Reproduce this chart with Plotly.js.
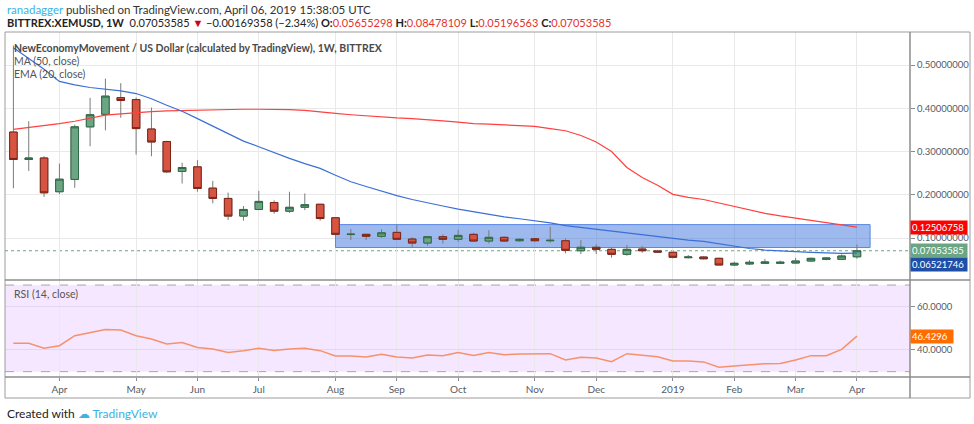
<!DOCTYPE html>
<html>
<head>
<meta charset="utf-8">
<script src="https://cdn.plot.ly/plotly-3.0.1.min.js"></script>
<style>
  html, body { margin: 0; padding: 0; background: #ffffff; }
  #chart { width: 974px; height: 424px; }
</style>
</head>
<body>
<div id="chart"></div>
<script>
// ---- data ----
const weeks = [
  '2018-03-12','2018-03-19','2018-03-26','2018-04-02','2018-04-09','2018-04-16','2018-04-23','2018-04-30',
  '2018-05-07','2018-05-14','2018-05-21','2018-05-28','2018-06-04','2018-06-11','2018-06-18','2018-06-25',
  '2018-07-02','2018-07-09','2018-07-16','2018-07-23','2018-07-30','2018-08-06','2018-08-13','2018-08-20',
  '2018-08-27','2018-09-03','2018-09-10','2018-09-17','2018-09-24','2018-10-01','2018-10-08','2018-10-15',
  '2018-10-22','2018-10-29','2018-11-05','2018-11-12','2018-11-19','2018-11-26','2018-12-03','2018-12-10',
  '2018-12-17','2018-12-24','2018-12-31','2019-01-07','2019-01-14','2019-01-21','2019-01-28','2019-02-04',
  '2019-02-11','2019-02-18','2019-02-25','2019-03-04','2019-03-11','2019-03-18','2019-03-25','2019-04-01'
];
const openP = [
  0.345,0.2816,0.285,0.207,0.2354,0.357,0.386,0.4246,
  0.420,0.352,0.323,0.254,0.2645,0.2153,0.1915,0.1507,
  0.166,0.182,0.162,0.171,0.178,0.1468,0.1080,0.1085,
  0.1039,0.113,0.0976,0.0884,0.103,0.097,0.1085,0.093,
  0.1015,0.0937,0.0983,0.0937,0.0937,0.0706,0.0785,0.0738,
  0.0623,0.0745,0.070,0.067,0.0545,0.056,0.053,0.0376,
  0.040,0.0415,0.0415,0.0422,0.0468,0.0507,0.0507,0.05655298
];
const highP = [
  0.545,0.370,0.289,0.272,0.362,0.424,0.4685,0.458,
  0.425,0.4016,0.325,0.274,0.280,0.232,0.205,0.174,
  0.209,0.187,0.207,0.203,0.179,0.1475,0.1207,0.1095,
  0.120,0.1306,0.102,0.1037,0.1085,0.119,0.112,0.118,
  0.1035,0.0985,0.0995,0.126,0.099,0.0953,0.0853,0.0776,
  0.0838,0.082,0.072,0.068,0.0607,0.0577,0.0545,0.0453,
  0.049,0.0515,0.0476,0.054,0.0545,0.0545,0.0622,0.08478109
];
const lowP = [
  0.215,0.255,0.195,0.2015,0.216,0.312,0.349,0.378,
  0.293,0.289,0.250,0.226,0.207,0.180,0.1415,0.140,
  0.1645,0.156,0.158,0.1645,0.140,0.1066,0.0953,0.0953,
  0.1006,0.0953,0.0785,0.082,0.087,0.0915,0.0915,0.0877,
  0.0915,0.0915,0.0915,0.089,0.0646,0.063,0.063,0.0545,
  0.059,0.066,0.066,0.053,0.053,0.0506,0.0368,0.0353,
  0.0376,0.0407,0.0407,0.0407,0.0445,0.0485,0.0492,0.05196563
];
const closeP = [
  0.2816,0.285,0.2045,0.236,0.357,0.385,0.428,0.418,
  0.353,0.322,0.253,0.263,0.2146,0.1915,0.1507,0.166,
  0.1846,0.162,0.171,0.177,0.145,0.1085,0.1088,0.1039,
  0.112,0.097,0.0884,0.103,0.097,0.106,0.093,0.1015,
  0.093,0.097,0.0937,0.0946,0.0715,0.0785,0.0738,0.0623,
  0.0738,0.0706,0.0676,0.0554,0.056,0.052,0.0376,0.0415,
  0.0438,0.0445,0.0438,0.0468,0.053,0.0538,0.0584,0.07053585
];
const ma50 = [
  0.351,0.355,0.359,0.3646,0.370,0.377,0.384,0.387,
  0.390,0.392,0.394,0.395,0.396,0.3965,0.397,0.3977,
  0.3977,0.3975,0.397,0.395,0.391,0.388,0.385,0.382,
  0.380,0.3776,0.376,0.374,0.371,0.368,0.3646,0.3635,
  0.362,0.3607,0.358,0.353,0.348,0.337,0.322,0.300,
  0.263,0.240,0.222,0.201,0.194,0.189,0.181,0.174,
  0.166,0.157,0.151,0.146,0.141,0.136,0.131,0.12506758
];
const ema20 = [
  0.540,0.515,0.490,0.462,0.454,0.448,0.4445,0.440,
  0.434,0.422,0.407,0.393,0.376,0.359,0.3415,0.324,
  0.311,0.297,0.284,0.272,0.261,0.245,0.230,0.219,
  0.208,0.198,0.189,0.181,0.174,0.1668,0.1604,0.1546,
  0.149,0.1445,0.140,0.135,0.1288,0.1246,0.120,0.1154,
  0.1115,0.107,0.103,0.099,0.0953,0.092,0.0868,0.080,
  0.0757,0.0722,0.070,0.068,0.067,0.0658,0.0646,0.06521746
];
const rsi14 = [
  43.1,43.1,40.8,42.0,46.6,48.0,49.5,49.2,
  46.6,45.1,42.8,43.5,41.2,40.5,38.8,39.7,
  40.8,39.8,40.5,40.8,39.7,37.2,37.2,36.8,
  38.0,36.8,36.3,37.7,37.4,38.8,37.5,38.8,
  37.8,38.2,38.3,38.3,35.4,36.6,36.3,34.6,
  38.3,37.7,36.9,34.9,34.9,34.5,32.0,32.6,
  33.2,33.7,33.8,35.4,37.4,37.4,40.3,46.4296
];
const monthTickDates = ['2018-04-02','2018-05-07','2018-06-04','2018-07-02','2018-08-06','2018-09-03','2018-10-01',
  '2018-11-05','2018-12-03','2019-01-07','2019-02-04','2019-03-04','2019-04-01'];
const monthTickText = ['Apr','May','Jun','Jul','Aug','Sep','Oct','Nov','Dec','2019','Feb','Mar','Apr'];
const priceTicks = [0.1, 0.2, 0.3, 0.4, 0.5];
const rsiTicks = [40, 60];
const rsiBands = [30, 70];
const zoneDates = ['2018-08-06', '2019-04-07'];
const zonePrices = [0.078, 0.131];

// ---- styles ----
const GREEN = '#6ba583', GREEN_EDGE = '#2f6b47';
const RED = '#d75442', RED_EDGE = '#7a2618';
const WICK = '#7b7b7b';
const AX = '#555b66';
const FONT = 'Lato, "Open Sans", sans-serif';

const lastIdx = closeP.length - 1;
const bodyHigh = openP.map((o, i) => Math.max(o, closeP[i]));
const bodyLow = openP.map((o, i) => Math.min(o, closeP[i]));

const traces = [
  { type: 'candlestick', x: weeks, open: openP, high: highP, low: lowP, close: closeP,
    increasing: { line: { color: WICK, width: 1 }, fillcolor: GREEN },
    decreasing: { line: { color: WICK, width: 1 }, fillcolor: RED },
    whiskerwidth: 0, xaxis: 'x', yaxis: 'y', showlegend: false, hoverinfo: 'skip' },
  { type: 'candlestick', x: weeks, open: openP, high: bodyHigh, low: bodyLow, close: closeP,
    increasing: { line: { color: GREEN_EDGE, width: 1 }, fillcolor: GREEN },
    decreasing: { line: { color: RED_EDGE, width: 1 }, fillcolor: RED },
    whiskerwidth: 0, xaxis: 'x', yaxis: 'y', showlegend: false, hoverinfo: 'skip' },
  { type: 'scatter', mode: 'lines', x: weeks, y: ma50, line: { color: '#ff4040', width: 1.2 },
    xaxis: 'x', yaxis: 'y', showlegend: false, hoverinfo: 'skip' },
  { type: 'scatter', mode: 'lines', x: weeks, y: ema20, line: { color: '#3c6fd6', width: 1.2 },
    xaxis: 'x', yaxis: 'y', showlegend: false, hoverinfo: 'skip' },
  { type: 'scatter', mode: 'lines', x: weeks, y: rsi14, line: { color: '#f7916b', width: 1.5 },
    xaxis: 'x', yaxis: 'y2', showlegend: false, hoverinfo: 'skip' }
];

// pixel helpers for paper coords (plot area: x 5..910, y 32..377)
const PX = v => (v - 5) / 905;
const PY = v => (377 - v) / 345;

const shapes = [
  { type: 'rect', xref: 'x', yref: 'y', x0: zoneDates[0], x1: zoneDates[1], y0: zonePrices[0], y1: zonePrices[1],
    fillcolor: 'rgba(62,116,220,0.5)', line: { color: '#5a88e0', width: 1 }, layer: 'between' },
  { type: 'line', xref: 'paper', yref: 'y', x0: 0, x1: 1, y0: closeP[lastIdx], y1: closeP[lastIdx],
    line: { color: GREEN, width: 1, dash: 'dot' }, layer: 'between' },
  { type: 'rect', xref: 'paper', yref: 'y2', x0: 0, x1: 1, y0: rsiBands[0], y1: rsiBands[1],
    fillcolor: 'rgba(153,21,255,0.1)', line: { width: 0 }, layer: 'below' },
  { type: 'line', xref: 'paper', yref: 'y2', x0: 0, x1: 1, y0: rsiBands[1], y1: rsiBands[1],
    line: { color: '#a6a6a6', width: 1, dash: 'dash' }, layer: 'between' },
  { type: 'line', xref: 'paper', yref: 'y2', x0: 0, x1: 1, y0: rsiBands[0], y1: rsiBands[0],
    line: { color: '#a6a6a6', width: 1, dash: 'dash' }, layer: 'between' },
  { type: 'rect', xref: 'paper', yref: 'paper', x0: PX(5), x1: PX(970), y0: PY(398), y1: PY(32),
    line: { color: '#9c9c9c', width: 1 }, fillcolor: 'rgba(0,0,0,0)', layer: 'above' },
  { type: 'line', xref: 'paper', yref: 'paper', x0: PX(5), x1: PX(970), y0: PY(280), y1: PY(280),
    line: { color: '#8c8c8c', width: 1.5 }, layer: 'above' },
  { type: 'line', xref: 'paper', yref: 'paper', x0: PX(5), x1: PX(970), y0: PY(377), y1: PY(377),
    line: { color: '#8c8c8c', width: 1.5 }, layer: 'above' },
  { type: 'line', xref: 'paper', yref: 'paper', x0: PX(910), x1: PX(910), y0: PY(398), y1: PY(32),
    line: { color: '#8c8c8c', width: 1.5 }, layer: 'above' }
];

const tagFont = { family: FONT, size: 9.5, color: '#ffffff' };
const annotations = [
  { xref: 'paper', yref: 'paper', x: PX(5), y: PY(9), xanchor: 'left', yanchor: 'middle', showarrow: false,
    font: { family: FONT, size: 11.5, color: '#333333' },
    text: '<span style="color:#3bb3e4">ranadagger</span> published on TradingView.com, April 06, 2019 15:38:05 UTC' },
  { xref: 'paper', yref: 'paper', x: PX(5), y: PY(22), xanchor: 'left', yanchor: 'middle', showarrow: false,
    font: { family: FONT, size: 11, color: '#222222' },
    text: '<b>BITTREX:XEMUSD, 1W</b>  0.07053585 <span style="color:#d0021b">▼</span> −0.00169358 (−2.34%) ' +
          '<b>O:</b><span style="color:#e5322d">0.05655298</span> <b>H:</b><span style="color:#e5322d">0.08478109</span> ' +
          '<b>L:</b><span style="color:#e5322d">0.05196563</span> <b>C:</b><span style="color:#e5322d">0.07053585</span>' },
  { xref: 'paper', yref: 'paper', x: PX(12), y: PY(48), xanchor: 'left', yanchor: 'middle', showarrow: false,
    font: { family: FONT, size: 10.5, color: '#4a4a4a' },
    text: '<b>NewEconomyMovement / US Dollar (calculated by TradingView), 1W, BITTREX</b>' },
  { xref: 'paper', yref: 'paper', x: PX(12), y: PY(61), xanchor: 'left', yanchor: 'middle', showarrow: false,
    font: { family: FONT, size: 10.5, color: '#555555' }, text: 'MA (50, close)' },
  { xref: 'paper', yref: 'paper', x: PX(12), y: PY(74), xanchor: 'left', yanchor: 'middle', showarrow: false,
    font: { family: FONT, size: 10.5, color: '#555555' }, text: 'EMA (20, close)' },
  { xref: 'paper', yref: 'paper', x: PX(12), y: PY(294), xanchor: 'left', yanchor: 'middle', showarrow: false,
    font: { family: FONT, size: 10.5, color: '#555555' }, text: 'RSI (14, close)' },
  { xref: 'paper', yref: 'paper', x: PX(5), y: PY(413), xanchor: 'left', yanchor: 'middle', showarrow: false,
    font: { family: FONT, size: 12, color: '#222222' },
    text: 'Created with <span style="color:#3bb3e4">☁ TradingView</span>' },
  { xref: 'paper', yref: 'y', x: 1, y: ma50[lastIdx], xanchor: 'left', yanchor: 'middle', showarrow: false,
    bgcolor: '#ff0000', font: tagFont, text: ma50[lastIdx].toFixed(8), width: 54, align: 'left', borderpad: 1 },
  { xref: 'paper', yref: 'y', x: 1, y: closeP[lastIdx], xanchor: 'left', yanchor: 'middle', showarrow: false,
    bgcolor: GREEN, font: tagFont, text: closeP[lastIdx].toFixed(8), width: 54, align: 'left', borderpad: 1 },
  { xref: 'paper', yref: 'y', x: 1, y: ema20[lastIdx], yshift: -11, xanchor: 'left', yanchor: 'middle', showarrow: false,
    bgcolor: '#1f4ea6', font: tagFont, text: ema20[lastIdx].toFixed(8), width: 54, align: 'left', borderpad: 1 },
  { xref: 'paper', yref: 'y2', x: 1, y: rsi14[lastIdx], xanchor: 'left', yanchor: 'middle', showarrow: false,
    bgcolor: '#ff6d00', font: tagFont, text: rsi14[lastIdx].toFixed(4), width: 40, align: 'left', borderpad: 1 }
];

const layout = {
  width: 974, height: 424,
  margin: { l: 5, r: 64, t: 32, b: 47 },
  paper_bgcolor: '#ffffff', plot_bgcolor: '#ffffff',
  showlegend: false, hovermode: false, boxmode: 'overlay',
  font: { family: FONT, color: AX },
  xaxis: {
    type: 'date', anchor: 'y2', range: ['2018-03-08 04:00', '2019-04-25 05:00'],
    rangeslider: { visible: false },
    tickmode: 'array', tickvals: monthTickDates, ticktext: monthTickText,
    ticks: 'outside', ticklen: 3, tickcolor: '#8c8c8c',
    tickfont: { family: FONT, size: 10, color: AX },
    showgrid: true, gridcolor: '#e9e9e9', gridwidth: 1,
    showline: false, zeroline: false, fixedrange: true
  },
  yaxis: {
    domain: [0.28116, 1], side: 'right', anchor: 'x', range: [0.0029, 0.5763],
    tickmode: 'array', tickvals: priceTicks, tickformat: '.8f',
    ticks: 'outside', ticklen: 4, tickcolor: '#8c8c8c',
    tickfont: { family: FONT, size: 9.5, color: AX },
    showgrid: true, gridcolor: '#e9e9e9', zeroline: false, showline: false, fixedrange: true
  },
  yaxis2: {
    domain: [0, 0.28116], side: 'right', anchor: 'x', range: [27.53, 72.33],
    tickmode: 'array', tickvals: rsiTicks, tickformat: '.4f',
    ticks: 'outside', ticklen: 4, tickcolor: '#8c8c8c',
    tickfont: { family: FONT, size: 9.5, color: AX },
    showgrid: true, gridcolor: '#e2d8ee', zeroline: false, showline: false, fixedrange: true
  },
  shapes: shapes,
  annotations: annotations
};

Plotly.newPlot('chart', traces, layout, { displayModeBar: false, staticPlot: true });
</script>
</body>
</html>
